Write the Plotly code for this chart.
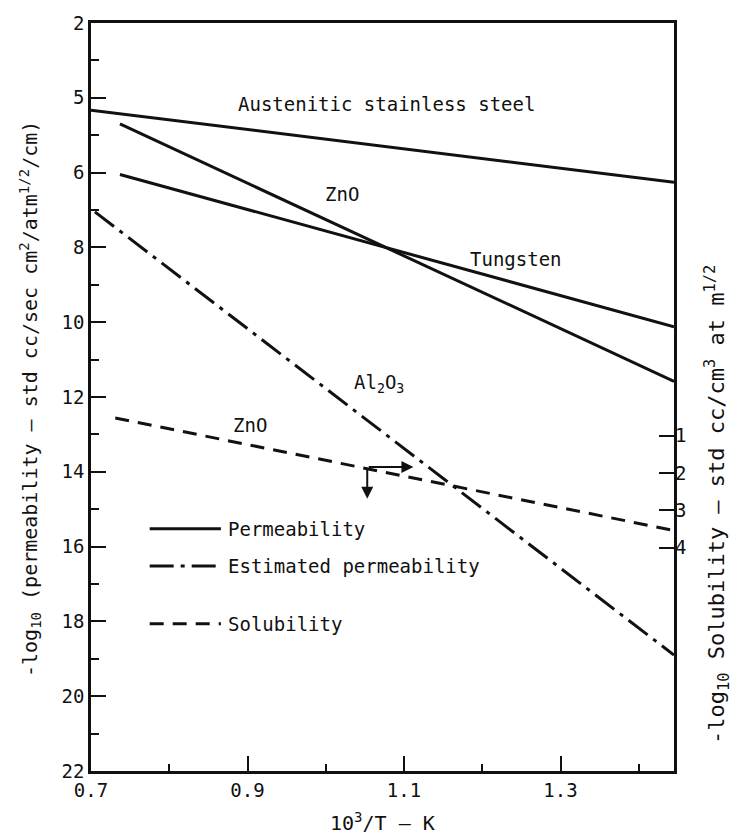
import plotly.graph_objects as go

# ---- data ----
steel_x = [0.70, 1.445]
steel_y = [4.33, 6.26]

zno_perm_x = [0.737, 1.445]
zno_perm_y = [4.70, 11.58]

tungsten_x = [0.737, 1.445]
tungsten_y = [6.05, 10.12]

al2o3_x = [0.705, 1.445]
al2o3_y = [7.05, 18.90]

zno_sol_x = [0.731, 1.445]
zno_sol_y = [0.53, 3.54]          # read on the right (solubility) axis

x_tickvals = [0.7, 0.9, 1.1, 1.3]
x_ticktext = ["0.7", "0.9", "1.1", "1.3"]
x_minor = [0.8, 1.0, 1.2, 1.4]

y_tickvals = [2, 4, 6, 8, 10, 12, 14, 16, 18, 20, 22]
y_ticktext = ["2", "5", "6", "8", "10", "12", "14", "16", "18", "20", "22"]
y_minor = [3, 5, 7, 9, 11, 13, 15, 17, 19, 21]

y2_tickvals = [1, 2, 3, 4]
y2_ticktext = ["1", "2", "3", "4"]

# arrows near the solubility line (tail x, tail y, head x, head y)
arrow_right = [1.053, 13.87, 1.112, 13.87]
arrow_down = [1.053, 13.87, 1.053, 14.72]

FONT = "DejaVu Sans Mono"
BLACK = "#111111"
SOLID_W = 3
DASHDOT = "24px,7px,4px,7px"
DASH = "14px,9px"
Y2_OFFSET = 12.03

fig = go.Figure()

def add_line(x, y, dash="solid", yaxis="y"):
    fig.add_trace(go.Scatter(x=x, y=y, mode="lines", yaxis=yaxis,
                             line=dict(color=BLACK, width=SOLID_W, dash=dash),
                             showlegend=False, hoverinfo="skip"))

add_line(steel_x, steel_y)
add_line(zno_perm_x, zno_perm_y)
add_line(tungsten_x, tungsten_y)
add_line(al2o3_x, al2o3_y, dash=DASHDOT)
add_line(zno_sol_x, zno_sol_y, dash=DASH, yaxis="y2")

# ---- hand drawn legend ----
legend_items = ["Permeability", "Estimated permeability", "Solubility"]
legend_dash = ["solid", DASHDOT, DASH]
legend_y = [15.52, 16.52, 18.06]
lx0, lx1, ltext = 0.775, 0.866, 0.872
for name, d, yy in zip(legend_items, legend_dash, legend_y):
    fig.add_shape(type="line", x0=lx0, x1=lx1, y0=yy, y1=yy, xref="x", yref="y",
                  line=dict(color=BLACK, width=SOLID_W, dash=d))
    fig.add_annotation(x=ltext, y=yy, text=name, showarrow=False, xanchor="left",
                       yanchor="middle", font=dict(family=FONT, size=19, color=BLACK))

# ---- curve labels ----
labels = [
    ("Austenitic stainless steel", 1.078, 4.17),
    ("ZnO", 1.021, 6.58),
    ("Tungsten", 1.243, 8.30),
    ("Al<sub>2</sub>O<sub>3</sub>", 1.068, 11.65),
    ("ZnO", 0.903, 12.74),
]
for t, x, y in labels:
    fig.add_annotation(x=x, y=y, text=t, showarrow=False, xanchor="center",
                       yanchor="middle", font=dict(family=FONT, size=19, color=BLACK))

for a in (arrow_right, arrow_down):
    fig.add_annotation(x=a[2], y=a[3], ax=a[0], ay=a[1], xref="x", yref="y",
                       axref="x", ayref="y", text="", showarrow=True,
                       arrowhead=2, arrowsize=1.2, arrowwidth=2, arrowcolor=BLACK)

# ---- axis titles ----
fig.add_annotation(text="10<sup>3</sup>/T — K", xref="paper", yref="paper",
                   x=0.5, y=-0.068, showarrow=False, xanchor="center", yanchor="middle",
                   font=dict(family=FONT, size=20, color=BLACK))
fig.add_annotation(text="-log<sub>10</sub> (permeability — std cc/sec cm<sup>2</sup>/atm<sup>1/2</sup>/cm)",
                   xref="paper", yref="paper", x=-0.105, y=0.497, textangle=-90,
                   showarrow=False, xanchor="center", yanchor="middle",
                   font=dict(family=FONT, size=20, color=BLACK))
fig.add_annotation(text="-log<sub>10</sub> Solubility — std cc/cm<sup>3</sup> at m<sup>1/2</sup>",
                   xref="paper", yref="paper", x=1.074, y=0.357, textangle=-90,
                   showarrow=False, xanchor="center", yanchor="middle",
                   font=dict(family=FONT, size=22, color=BLACK))

axis_font = dict(family=FONT, size=19, color=BLACK)
fig.update_layout(
    width=739, height=839,
    margin=dict(l=91, r=65, t=15, b=68),
    paper_bgcolor="white", plot_bgcolor="white",
    showlegend=False,
    xaxis=dict(range=[0.7, 1.445], tickmode="array", tickvals=x_tickvals,
               ticktext=x_ticktext, ticks="inside", ticklen=15, tickwidth=1.5,
               tickcolor=BLACK, showgrid=False, zeroline=False,
               showline=True, linecolor=BLACK, linewidth=2.5, mirror=True,
               tickfont=axis_font,
               minor=dict(tickmode="array", tickvals=x_minor, ticks="inside",
                          ticklen=7, tickwidth=1.5, tickcolor=BLACK, showgrid=False)),
    yaxis=dict(range=[22, 2], tickmode="array", tickvals=y_tickvals,
               ticktext=y_ticktext, ticks="inside", ticklen=15, tickwidth=1.5,
               tickcolor=BLACK, showgrid=False, zeroline=False,
               showline=True, linecolor=BLACK, linewidth=2.5, mirror=True,
               tickfont=axis_font,
               minor=dict(tickmode="array", tickvals=y_minor, ticks="inside",
                          ticklen=8, tickwidth=1.5, tickcolor=BLACK, showgrid=False)),
    yaxis2=dict(range=[22 - Y2_OFFSET, 2 - Y2_OFFSET], overlaying="y", side="right",
                tickmode="array", tickvals=y2_tickvals, ticktext=y2_ticktext,
                ticks="inside", ticklen=15, tickwidth=1.5, tickcolor=BLACK,
                showgrid=False, zeroline=False, showline=False, tickfont=axis_font),
)

fig.write_html("out.html")
